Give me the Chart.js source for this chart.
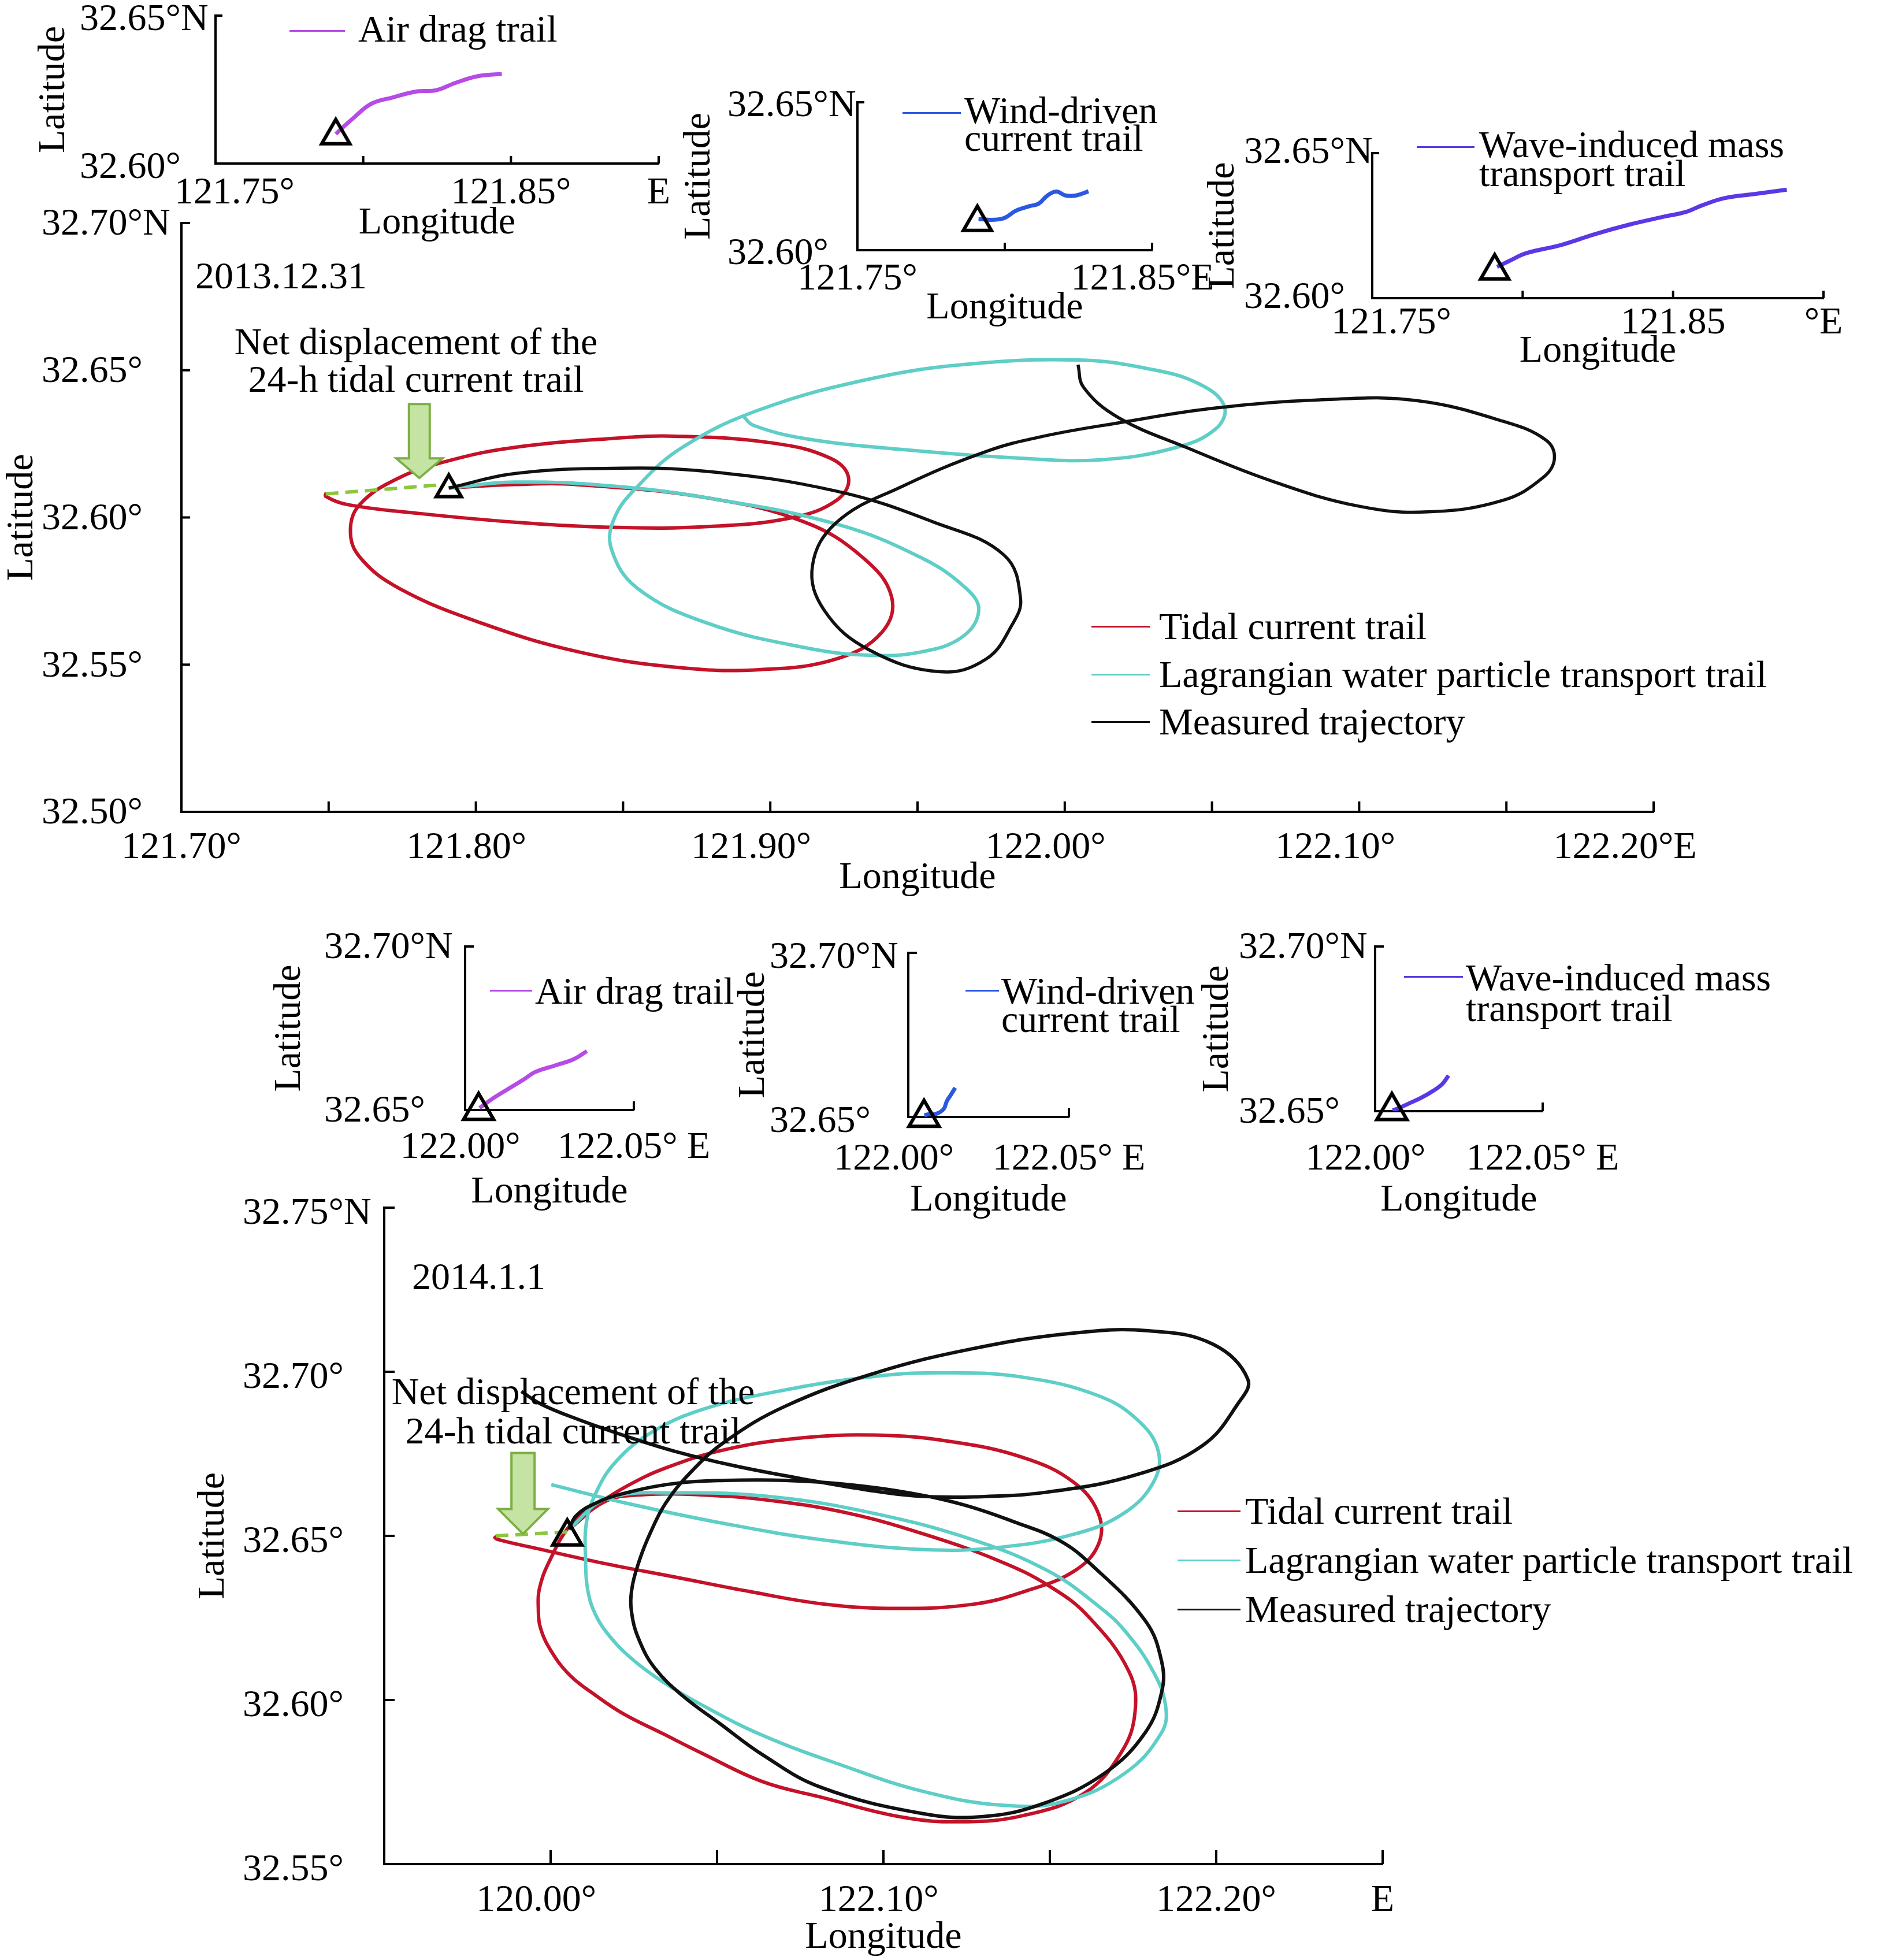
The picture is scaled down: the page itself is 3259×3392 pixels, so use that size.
<!DOCTYPE html>
<html>
<head>
<meta charset="utf-8">
<script src="https://cdn.jsdelivr.net/npm/chart.js@4.4.1/dist/chart.umd.min.js"></script>
<style>
  html, body { margin: 0; padding: 0; background: #fff; }
  #page { position: relative; width: 3259px; height: 3392px; overflow: hidden; background: #fff;
          font-family: "Liberation Serif", "Times New Roman", serif; color: #000; }
  #page canvas { position: absolute; }
  .txt { position: absolute; font-size: 66px; line-height: 66px; white-space: nowrap; }
  .sw { position: absolute; height: 3px; }
</style>
</head>
<body>
<div id="page"></div>
<script>
/* ================= DATA : 2013.12.31 ================= */

const topStart = [121.7908, 32.6095];
const topNetDisp = [[121.7490, 32.6080], [121.7895, 32.6112]];
const topArrowTip = [121.7808, 32.6134];

const topTidal = [
  [121.7908, 32.6100], [121.8132, 32.6112], [121.8351, 32.6111], [121.8789, 32.6066],
  [121.9117, 32.5984], [121.9314, 32.5864], [121.9412, 32.5730], [121.9379, 32.5610],
  [121.9226, 32.5520], [121.8964, 32.5483], [121.8679, 32.5491], [121.8351, 32.5543],
  [121.8022, 32.5640], [121.7738, 32.5760], [121.7606, 32.5865], [121.7574, 32.5954],
  [121.7606, 32.6044], [121.7738, 32.6134], [121.7913, 32.6194], [121.8132, 32.6238],
  [121.8460, 32.6268], [121.8679, 32.6276], [121.9007, 32.6253], [121.9204, 32.6201],
  [121.9266, 32.6134], [121.9226, 32.6059], [121.9073, 32.5999], [121.8789, 32.5969],
  [121.8482, 32.5966], [121.8132, 32.5984], [121.7803, 32.6014], [121.7563, 32.6044],
  [121.7490, 32.6072], [121.7493, 32.6086]
];

const topLagrangian = [
  [121.7908, 32.6100], [121.8132, 32.6120], [121.8460, 32.6107], [121.8789, 32.6066],
  [121.9226, 32.5977], [121.9511, 32.5864], [121.9664, 32.5760], [121.9708, 32.5685],
  [121.9653, 32.5595], [121.9511, 32.5543], [121.9336, 32.5532], [121.9117, 32.5558],
  [121.8789, 32.5640], [121.8548, 32.5760], [121.8460, 32.5894], [121.8471, 32.5999],
  [121.8548, 32.6104], [121.8701, 32.6238], [121.8964, 32.6366], [121.9336, 32.6470],
  [121.9664, 32.6520], [122.0045, 32.6535], [122.0279, 32.6506], [122.0454, 32.6455],
  [122.0542, 32.6378], [122.0513, 32.6301], [122.0376, 32.6237], [122.0123, 32.6196],
  [121.9850, 32.6201], [121.9445, 32.6231], [121.9117, 32.6268], [121.8942, 32.6313],
  [121.8909, 32.6343]
];

const topMeasured = [
  [121.7908, 32.6100], [121.8132, 32.6149], [121.8460, 32.6167], [121.8789, 32.6156],
  [121.9226, 32.6089], [121.9555, 32.5984], [121.9794, 32.5872], [121.9850, 32.5724],
  [121.9821, 32.5635], [121.9733, 32.5519], [121.9577, 32.5476], [121.9336, 32.5550],
  [121.9183, 32.5685], [121.9143, 32.5835], [121.9226, 32.5984], [121.9445, 32.6104],
  [121.9733, 32.6224], [121.9928, 32.6276], [122.0181, 32.6321], [122.0513, 32.6372],
  [122.0903, 32.6401], [122.1195, 32.6397], [122.1488, 32.6327], [122.1634, 32.6263],
  [122.1663, 32.6199], [122.1624, 32.6135], [122.1488, 32.6058], [122.1234, 32.6019],
  [122.1000, 32.6038], [122.0708, 32.6122], [122.0415, 32.6237], [122.0181, 32.6340],
  [122.0064, 32.6442], [122.0045, 32.6519]
];

const topAirDrag = [
  [121.7907, 32.6100], [121.7967, 32.6154], [121.8027, 32.6202], [121.8102, 32.6224],
  [121.8184, 32.6244], [121.8244, 32.6247], [121.8311, 32.6272], [121.8386, 32.6295],
  [121.8469, 32.6303]
];
const topWind = [
  [121.7911, 32.6105], [121.7965, 32.6103], [121.8001, 32.6110], [121.8037, 32.6133],
  [121.8085, 32.6149], [121.8115, 32.6157], [121.8145, 32.6185], [121.8176, 32.6198],
  [121.8206, 32.6185], [121.8242, 32.6185], [121.8284, 32.6199]
];
const topWave = [
  [121.7915, 32.6108], [121.7955, 32.6128], [121.8012, 32.6155], [121.8127, 32.6183],
  [121.8241, 32.6221], [121.8356, 32.6254], [121.8470, 32.6281], [121.8542, 32.6297],
  [121.8599, 32.6321], [121.8671, 32.6345], [121.8771, 32.6359], [121.8878, 32.6374]
];

/* ================= DATA : 2014.1.1 ================= */

const botStart = [122.0050, 32.6498];
const botNetDisp = [[121.9835, 32.6500], [122.0050, 32.6512]];
const botArrowTip = [121.9917, 32.6506];

const botTidal = [
  [122.0055, 32.6520], [122.0166, 32.6606], [122.0271, 32.6625], [122.0451, 32.6625],
  [122.0675, 32.6606], [122.0899, 32.6568], [122.1123, 32.6505], [122.1347, 32.6424],
  [122.1497, 32.6348], [122.1616, 32.6254], [122.1738, 32.6086], [122.1756, 32.5963],
  [122.1714, 32.5839], [122.1604, 32.5716], [122.1421, 32.5648], [122.1238, 32.5629],
  [122.1056, 32.5643], [122.0812, 32.5704], [122.0637, 32.5751], [122.0452, 32.5839],
  [122.0336, 32.5898], [122.0220, 32.5957], [122.0134, 32.6015], [122.0059, 32.6074],
  [122.0001, 32.6150], [121.9969, 32.6221], [121.9963, 32.6279], [121.9966, 32.6338],
  [121.9995, 32.6420], [122.0062, 32.6537], [122.0136, 32.6593], [122.0226, 32.6650],
  [122.0346, 32.6707], [122.0525, 32.6763], [122.0749, 32.6798], [122.0974, 32.6807],
  [122.1198, 32.6788], [122.1422, 32.6738], [122.1572, 32.6663], [122.1646, 32.6568],
  [122.1646, 32.6474], [122.1572, 32.6392], [122.1422, 32.6330], [122.1272, 32.6292],
  [122.1048, 32.6279], [122.0824, 32.6292], [122.0600, 32.6330], [122.0376, 32.6374],
  [122.0152, 32.6418], [121.9957, 32.6462], [121.9838, 32.6490], [121.9830, 32.6499]
];

const botLagrangian = [
  [122.0055, 32.6520], [122.0166, 32.6612], [122.0376, 32.6631], [122.0675, 32.6618],
  [122.0974, 32.6568], [122.1272, 32.6487], [122.1497, 32.6392], [122.1646, 32.6286],
  [122.1726, 32.6210], [122.1811, 32.6086], [122.1848, 32.5981], [122.1836, 32.5901],
  [122.1726, 32.5777], [122.1543, 32.5691], [122.1360, 32.5679], [122.1117, 32.5722],
  [122.0873, 32.5802], [122.0637, 32.5892], [122.0452, 32.5986], [122.0336, 32.6056],
  [122.0249, 32.6121], [122.0180, 32.6191], [122.0134, 32.6262], [122.0111, 32.6338],
  [122.0105, 32.6426], [122.0107, 32.6537], [122.0136, 32.6631], [122.0196, 32.6726],
  [122.0301, 32.6814], [122.0450, 32.6883], [122.0675, 32.6939], [122.0974, 32.6986],
  [122.1198, 32.6997], [122.1422, 32.6983], [122.1646, 32.6927], [122.1766, 32.6851],
  [122.1826, 32.6757], [122.1811, 32.6663], [122.1721, 32.6568], [122.1572, 32.6505],
  [122.1347, 32.6465], [122.1123, 32.6458], [122.0824, 32.6487], [122.0525, 32.6537],
  [122.0226, 32.6600], [122.0002, 32.6656]
];

const botMeasured = [
  [122.0055, 32.6520], [122.0077, 32.6562], [122.0136, 32.6600], [122.0226, 32.6631],
  [122.0376, 32.6660], [122.0525, 32.6669], [122.0705, 32.6669], [122.0899, 32.6656],
  [122.1078, 32.6631], [122.1243, 32.6594], [122.1392, 32.6543], [122.1527, 32.6487],
  [122.1625, 32.6412], [122.1787, 32.6241], [122.1836, 32.6117], [122.1836, 32.6024],
  [122.1787, 32.5901], [122.1665, 32.5777], [122.1482, 32.5685], [122.1300, 32.5645],
  [122.1117, 32.5654], [122.0812, 32.5734], [122.0637, 32.5833], [122.0510, 32.5927],
  [122.0394, 32.6015], [122.0313, 32.6097], [122.0267, 32.6180], [122.0244, 32.6262],
  [122.0244, 32.6338], [122.0267, 32.6426], [122.0300, 32.6510], [122.0346, 32.6600],
  [122.0421, 32.6694], [122.0525, 32.6788], [122.0705, 32.6895], [122.0974, 32.6996],
  [122.1272, 32.7071], [122.1572, 32.7118], [122.1796, 32.7125], [122.1990, 32.7084],
  [122.2095, 32.6977], [122.2064, 32.6901], [122.1960, 32.6776], [122.1766, 32.6688],
  [122.1497, 32.6634], [122.1272, 32.6619], [122.1093, 32.6622], [122.0944, 32.6641],
  [122.0750, 32.6675], [122.0555, 32.6713], [122.0376, 32.6757], [122.0226, 32.6804],
  [122.0077, 32.6857], [121.9972, 32.6901], [121.9912, 32.6940]
];

const botAirDrag = [
  [122.0043, 32.6506], [122.0083, 32.6536], [122.0130, 32.6566], [122.0176, 32.6595],
  [122.0207, 32.6616], [122.0269, 32.6637], [122.0321, 32.6655], [122.0361, 32.6680]
];
const botWind = [
  [122.0050, 32.6505], [122.0062, 32.6508], [122.0088, 32.6510], [122.0110, 32.6524],
  [122.0120, 32.6548], [122.0133, 32.6568], [122.0146, 32.6589]
];
const botWave = [
  [122.0052, 32.6503], [122.0063, 32.6506], [122.0100, 32.6523], [122.0138, 32.6541],
  [122.0172, 32.6561], [122.0200, 32.6582], [122.0219, 32.6608]
];

const insetStartsTop = [121.7907, 32.6094];
const insetStartsBot = [[122.0040, 32.6498], [122.0049, 32.6498], [122.0050, 32.6501]];

/* ================= TICKS ================= */
// the extra spaces nudge a label off-centre, as the printed figure does

const topMainLonTicks = [121.70, 121.75, 121.80, 121.85, 121.90, 121.95, 122.00, 122.05, 122.10, 122.15, 122.20];
const topMainLonLabels = ['121.70°', '', '121.80°  ', '', '121.90°    ', '', '122.00°    ', '', '122.10°     ', '', '122.20°E      '];
const topMainLatTicks = [32.50, 32.55, 32.60, 32.65, 32.70];
const topMainLatLabels = ['32.50°', '32.55°', '32.60°', '32.65°', '32.70°N'];

const topInsetLatTicks = [32.60, 32.65];
const topInsetLatLabels = ['32.60°', '32.65°N'];
const inset1LonTicks = [121.75, 121.80, 121.85, 121.90];
const inset1LonLabels = ['    121.75°', '', '121.85°', 'E'];
const inset2LonTicks = [121.75, 121.80, 121.85];
const inset2LonLabels = ['121.75°', '', '121.85°E  '];
const inset3LonTicks = [121.75, 121.80, 121.85, 121.90];
const inset3LonLabels = ['    121.75°', '', '121.85', '°E'];

const botInsetLonTicks = [122.00, 122.05];
const botInset1LonLabels = ['122.00° ', '122.05° E'];
const botInset2LonLabels = ['122.00°   ', '122.05° E'];
const botInset3LonLabels = ['122.00°  ', '122.05° E'];
const botInsetLatTicks = [32.65, 32.70];
const botInsetLatLabels = ['32.65°', '32.70°N'];

const botMainLonTicks = [121.95, 122.00, 122.05, 122.10, 122.15, 122.20, 122.25];
const botMainLonLabels = ['', '120.00°   ', '', '122.10° ', '', '122.20°', 'E'];
const botMainLatTicks = [32.55, 32.60, 32.65, 32.70, 32.75];
const botMainLatLabels = ['32.55°', '32.60°', '32.65°', '32.70°', '32.75°N'];

/* ================= LEGEND / TEXT ================= */

const mainLegendLabels = ['Tidal current trail', 'Lagrangian water particle transport trail', 'Measured trajectory'];
const COLORS = {
  tidal: '#c41228', lagr: '#5ecec7', meas: '#111111',
  air: '#b64be6', wind: '#2b58e2', wave: '#5a38e6', green: '#8cc63f'
};

/* ================= PLUGINS ================= */

const innerTicks = {
  id: 'innerTicks',
  afterDatasetsDraw(chart, args, o) {
    const { ctx, chartArea: a, scales: { x, y } } = chart;
    ctx.save();
    ctx.strokeStyle = '#000';
    ctx.lineWidth = o.width;
    x.ticks.forEach(t => {
      const px = x.getPixelForValue(t.value);
      ctx.beginPath(); ctx.moveTo(px, a.bottom); ctx.lineTo(px, a.bottom - o.xLen); ctx.stroke();
    });
    y.ticks.forEach(t => {
      const py = y.getPixelForValue(t.value);
      ctx.beginPath(); ctx.moveTo(a.left, py); ctx.lineTo(a.left + o.yLen, py); ctx.stroke();
    });
    ctx.restore();
  }
};

const netArrow = {
  id: 'netArrow',
  afterDatasetsDraw(chart, args, o) {
    if (!o || !o.tip) return;
    const { ctx, scales: { x, y } } = chart;
    const tx = x.getPixelForValue(o.tip[0]), ty = y.getPixelForValue(o.tip[1]);
    const sw = o.shaft / 2, hw = o.head / 2, top = ty - o.len, neck = ty - o.headLen;
    ctx.save();
    ctx.beginPath();
    ctx.moveTo(tx - sw, top); ctx.lineTo(tx + sw, top); ctx.lineTo(tx + sw, neck);
    ctx.lineTo(tx + hw, neck); ctx.lineTo(tx, ty); ctx.lineTo(tx - hw, neck);
    ctx.lineTo(tx - sw, neck); ctx.closePath();
    ctx.fillStyle = '#c5e3a2'; ctx.fill();
    ctx.lineWidth = 4; ctx.strokeStyle = '#7daf45'; ctx.stroke();
    ctx.restore();
  }
};

/* ================= HELPERS ================= */

const FS = 66;
Chart.defaults.font.family = '"Liberation Serif", "Times New Roman", serif';
Chart.defaults.font.size = FS;
Chart.defaults.color = '#000';

const page = document.getElementById('page');

function pts(arr) { return arr.map(p => ({ x: p[0], y: p[1] })); }

function trail(data, color, width, extra) {
  return Object.assign({
    data: pts(data), showLine: true, borderColor: color, backgroundColor: color,
    borderWidth: width, pointRadius: 0, pointHoverRadius: 0, tension: 0.4, fill: false
  }, extra || {});
}

function startMark(pt, r) {
  return {
    data: pts([pt]), showLine: false, pointStyle: 'triangle', pointRadius: r,
    borderColor: '#000', borderWidth: 6, backgroundColor: 'rgba(0,0,0,0)', clip: false
  };
}

function xAxis(a, height) {
  return {
    type: 'linear', position: 'bottom', min: a.min, max: a.max,
    afterBuildTicks: s => { s.ticks = a.ticks.map(v => ({ value: v })); },
    afterFit: s => { s.height = height; s.paddingLeft = s.paddingRight = s.paddingTop = s.paddingBottom = 0; },
    grid: { display: false, drawTicks: false },
    border: { display: true, color: '#000', width: 4 },
    ticks: { autoSkip: false, maxRotation: 0, minRotation: 0, padding: a.pad, color: '#000',
             callback: (v, i) => a.labels[i] },
    title: { display: true, text: 'Longitude', color: '#000', padding: 0 }
  };
}

// y labels are left aligned at labelLeft, the axis title is centred on titleX
function yAxis(a, width, titleShift) {
  return {
    type: 'linear', position: 'left', min: a.min, max: a.max,
    afterBuildTicks: s => { s.ticks = a.ticks.map(v => ({ value: v })); },
    afterFit: s => { s.width = width; s.paddingLeft = s.paddingRight = s.paddingTop = s.paddingBottom = 0; },
    grid: { display: false, drawTicks: false },
    border: { display: true, color: '#000', width: 4 },
    ticks: { autoSkip: false, crossAlign: 'far', padding: 0, labelOffset: a.off || 0, color: '#000',
             callback: (v, i) => a.labels[i] },
    title: { display: true, text: 'Latitude', color: '#000', padding: { top: titleShift, bottom: 0 } }
  };
}

// box = [left, top, right, bottom] of the plot area on the page
function buildChart(spec) {
  const [l, t, r, b] = spec.box;
  const { labelLeft, titleX, mt, mr, mb } = spec;
  const canvasLeft = titleX - 45;
  const c = document.createElement('canvas');
  c.width = (r - canvasLeft) + mr;
  c.height = mt + (b - t) + mb;
  c.style.left = canvasLeft + 'px';
  c.style.top = (t - mt) + 'px';
  page.appendChild(c);
  return new Chart(c, {
    type: 'scatter',
    data: { datasets: spec.datasets },
    options: {
      responsive: false, animation: false, events: [],
      layout: { padding: { left: labelLeft - canvasLeft, top: mt, right: mr, bottom: 0 } },
      plugins: {
        legend: { display: false }, tooltip: { enabled: false },
        innerTicks: { xLen: spec.tick[0], yLen: spec.tick[1], width: 4 },
        netArrow: spec.arrow || {}
      },
      scales: {
        x: xAxis(spec.x, mb),
        y: yAxis(spec.y, l - labelLeft, titleX - labelLeft - FS * 0.6)
      }
    },
    plugins: [innerTicks, netArrow]
  });
}

function addText(html, left, top, lh, extra) {
  const d = document.createElement('div');
  d.className = 'txt';
  d.style.left = left + 'px';
  d.style.top = top + 'px';
  d.style.lineHeight = lh + 'px';
  if (extra) Object.assign(d.style, extra);
  d.innerHTML = html;
  page.appendChild(d);
}

// swatch from x0 to x1 at y, text starting at tx with first-line centre ty
function addLegend(x0, x1, y, color, tx, ty, lines, lh) {
  const s = document.createElement('div');
  s.className = 'sw';
  s.style.left = x0 + 'px'; s.style.width = (x1 - x0) + 'px';
  s.style.top = (y - 1.5) + 'px'; s.style.background = color;
  page.appendChild(s);
  addText(lines.join('<br>'), tx, ty - lh / 2, lh);
}

/* ================= CHARTS ================= */

// main chart 2013.12.31
buildChart({
  box: [314, 386, 2862, 1405], labelLeft: 72, titleX: 39, mt: 50, mr: 140, mb: 154, tick: [18, 15],
  x: { min: 121.70, max: 122.20, ticks: topMainLonTicks, labels: topMainLonLabels, pad: 23 },
  y: { min: 32.50, max: 32.70, ticks: topMainLatTicks, labels: topMainLatLabels, off: 3 },
  arrow: { tip: topArrowTip, shaft: 36, head: 80, headLen: 34, len: 128 },
  datasets: [
    startMark(topStart, 25),
    trail(topNetDisp, COLORS.green, 6, { tension: 0, borderDash: [22, 12], clip: false }),
    trail(topMeasured, COLORS.meas, 5.5),
    trail(topLagrangian, COLORS.lagr, 6),
    trail(topTidal, COLORS.tidal, 6)
  ]
});

// inset: air drag (top)
buildChart({
  box: [373, 23, 1140, 283], labelLeft: 138, titleX: 94, mt: 30, mr: 40, mb: 143, tick: [13, 12],
  x: { min: 121.75, max: 121.90, ticks: inset1LonTicks, labels: inset1LonLabels, pad: 12 },
  y: { min: 32.60, max: 32.65, ticks: topInsetLatTicks, labels: topInsetLatLabels, off: 8 },
  datasets: [startMark(insetStartsTop, 28), trail(topAirDrag, COLORS.air, 7)]
});

// inset: wind-driven (top)
buildChart({
  box: [1484, 177, 1994, 433], labelLeft: 1259, titleX: 1211, mt: 45, mr: 140, mb: 140, tick: [13, 12],
  x: { min: 121.75, max: 121.85, ticks: inset2LonTicks, labels: inset2LonLabels, pad: 11 },
  y: { min: 32.60, max: 32.65, ticks: topInsetLatTicks, labels: topInsetLatLabels, off: 7 },
  datasets: [startMark(insetStartsTop, 28), trail(topWind, COLORS.wind, 7)]
});

// inset: wave-induced (top)
buildChart({
  box: [2375, 265, 3156, 516], labelLeft: 2153, titleX: 2118, mt: 45, mr: 100, mb: 132, tick: [13, 12],
  x: { min: 121.75, max: 121.90, ticks: inset3LonTicks, labels: inset3LonLabels, pad: 4 },
  y: { min: 32.60, max: 32.65, ticks: topInsetLatTicks, labels: topInsetLatLabels },
  datasets: [startMark(insetStartsTop, 28), trail(topWave, COLORS.wave, 7)]
});

// insets 2014.1.1
buildChart({
  box: [805, 1638, 1097, 1921], labelLeft: 561, titleX: 502, mt: 45, mr: 130, mb: 182, tick: [15, 15],
  x: { min: 122.00, max: 122.05, ticks: botInsetLonTicks, labels: botInset1LonLabels, pad: 26 },
  y: { min: 32.65, max: 32.70, ticks: botInsetLatTicks, labels: botInsetLatLabels, off: 3 },
  datasets: [startMark(insetStartsBot[0], 30), trail(botAirDrag, COLORS.air, 7)]
});
buildChart({
  box: [1572, 1649, 1850, 1933], labelLeft: 1332, titleX: 1305, mt: 45, mr: 130, mb: 184, tick: [15, 15],
  x: { min: 122.00, max: 122.05, ticks: botInsetLonTicks, labels: botInset2LonLabels, pad: 34 },
  y: { min: 32.65, max: 32.70, ticks: botInsetLatTicks, labels: botInsetLatLabels, off: 9 },
  datasets: [startMark(insetStartsBot[1], 30), trail(botWind, COLORS.wind, 7)]
});
buildChart({
  box: [2380, 1638, 2670, 1923], labelLeft: 2144, titleX: 2108, mt: 45, mr: 130, mb: 194, tick: [15, 15],
  x: { min: 122.00, max: 122.05, ticks: botInsetLonTicks, labels: botInset3LonLabels, pad: 44 },
  y: { min: 32.65, max: 32.70, ticks: botInsetLatTicks, labels: botInsetLatLabels, off: 3 },
  datasets: [startMark(insetStartsBot[2], 30), trail(botWave, COLORS.wave, 7)]
});

// main chart 2014.1.1
buildChart({
  box: [665, 2090, 2393, 3226], labelLeft: 420, titleX: 370, mt: 45, mr: 60, mb: 167, tick: [24, 18],
  x: { min: 121.95, max: 122.25, ticks: botMainLonTicks, labels: botMainLonLabels, pad: 24 },
  y: { min: 32.55, max: 32.75, ticks: botMainLatTicks, labels: botMainLatLabels, off: 11 },
  arrow: { tip: botArrowTip, shaft: 40, head: 86, headLen: 43, len: 140 },
  datasets: [
    startMark(botStart, 29),
    trail(botNetDisp, COLORS.green, 6, { tension: 0, borderDash: [22, 12], clip: false }),
    trail(botMeasured, COLORS.meas, 6),
    trail(botLagrangian, COLORS.lagr, 6),
    trail(botTidal, COLORS.tidal, 6)
  ]
});

/* ================= TEXT ================= */

addText('2013.12.31', 338, 444, 66);
addText('Net displacement of the<br>24-h tidal current trail', 320, 558, 65, { width: '800px', textAlign: 'center' });
addText('2014.1.1', 713, 2176, 66);
addText('Net displacement of the<br>24-h tidal current trail', 592, 2374, 68, { width: '800px', textAlign: 'center' });

const mainColors = [COLORS.tidal, COLORS.lagr, COLORS.meas];
[1084, 1167, 1249].forEach((y, i) => addLegend(1889, 1990, y, mainColors[i], 2006, y, [mainLegendLabels[i]], 66));
[2615, 2700, 2785].forEach((y, i) => addLegend(2038, 2147, y, mainColors[i], 2155, y, [mainLegendLabels[i]], 66));

addLegend(501, 597, 53, COLORS.air, 620, 50, ['Air drag trail'], 66);
addLegend(1562, 1663, 195, COLORS.wind, 1669, 191, ['Wind-driven', 'current trail'], 48);
addLegend(2452, 2552, 254, COLORS.wave, 2560, 250, ['Wave-induced mass', 'transport trail'], 50);
addLegend(848, 921, 1714, COLORS.air, 926, 1715, ['Air drag trail'], 66);
addLegend(1671, 1729, 1714, COLORS.wind, 1733, 1714, ['Wind-driven', 'current trail'], 49);
addLegend(2430, 2532, 1690, COLORS.wave, 2537, 1691, ['Wave-induced mass', 'transport trail'], 53);
</script>
</body>
</html>
